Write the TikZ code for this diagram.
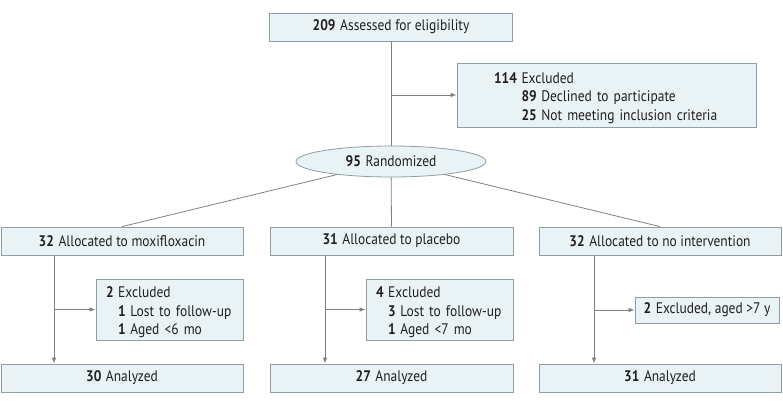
\documentclass[tikz,border=0pt]{standalone}
\usepackage{fontspec}
\setmainfont[FakeStretch=0.88]{PT Sans}
\usetikzlibrary{shapes.geometric,arrows.meta}
\definecolor{boxfill}{HTML}{E9F3F6}
\definecolor{boxline}{HTML}{8E9EA3}
\definecolor{flowline}{HTML}{808080}
\definecolor{inkblack}{HTML}{231F20}
\newcommand{\cnt}[1]{\textbf{#1}\hspace{0.3em}}
\newcommand{\topstrut}{\rule{0pt}{17pt}}

\begin{document}
\begin{tikzpicture}[x=1pt, y=-1pt,
    box/.style={rectangle, draw=boxline, fill=boxfill, line width=0.8pt,
      inner sep=0pt, minimum height=28pt, text=inkblack,
      font=\fontsize{15.3}{18.5}\selectfont},
    listbox/.style={box, align=left},
    oval/.style={box, ellipse, minimum width=190pt, minimum height=31pt},
    flow/.style={draw=flowline, line width=0.8pt},
    flowarrow/.style={flow, -{Latex[length=6pt, width=4.5pt]}}]
    \useasboundingbox (0,0) rectangle (783,406);

    % 1. 顶部:筛选与排除
    \node [box, minimum width=243pt] (assess) at (391, 27) {\cnt{209}Assessed for eligibility};
    \node [listbox, minimum width=299pt, minimum height=64pt, text width=225pt] (excl) at (606.5, 95)
      {\topstrut\cnt{114}Excluded\\%
       \hphantom{\cnt{114}}\cnt{89}Declined to participate\\%
       \hphantom{\cnt{114}}\cnt{25}Not meeting inclusion criteria};
    \node [oval] (rand) at (391, 161.5) {\cnt{95}Randomized};

    % 2. 三个分组
    \node [box, minimum width=242pt] (alloc1) at (122, 241) {\cnt{32}Allocated to moxifloxacin};
    \node [box, minimum width=243pt] (alloc2) at (391.5, 241) {\cnt{31}Allocated to placebo};
    \node [box, minimum width=242pt] (alloc3) at (660, 241) {\cnt{32}Allocated to no intervention};

    % 3. 各组排除
    \node [listbox, minimum width=147pt, minimum height=61pt, text width=127pt] (excl1) at (169.5, 309.5)
      {\topstrut\cnt{2}Excluded\\%
       \hphantom{\cnt{2}}\cnt{1}Lost to follow-up\\%
       \hphantom{\cnt{2}}\cnt{1}Aged <6 mo};
    \node [listbox, minimum width=147pt, minimum height=61pt, text width=127pt] (excl2) at (439.5, 309.5)
      {\topstrut\cnt{4}Excluded\\%
       \hphantom{\cnt{4}}\cnt{3}Lost to follow-up\\%
       \hphantom{\cnt{4}}\cnt{1}Aged <7 mo};
    \node [box, minimum width=144pt, minimum height=26pt] (excl3) at (707, 310) {\cnt{2}Excluded, aged >7 y};

    % 4. 分析
    \node [box, minimum width=242pt] (anal1) at (122, 378) {\cnt{30}Analyzed};
    \node [box, minimum width=243pt] (anal2) at (391.5, 378) {\cnt{27}Analyzed};
    \node [box, minimum width=242pt] (anal3) at (660, 378) {\cnt{31}Analyzed};

    % 5. 连线
    \draw [flow] (assess) -- (rand);
    \draw [flowarrow] (assess.south |- excl.west) -- (excl.west);
    \draw [flow] (rand) -- (alloc1.north);
    \draw [flow] (rand) -- (alloc2.north);
    \draw [flow] (rand) -- (alloc3.north);

    \coordinate (down1) at (54, 255);
    \coordinate (down2) at (325, 255);
    \coordinate (down3) at (594, 255);
    \draw [flowarrow] (down1) -- (down1 |- anal1.north);
    \draw [flowarrow] (down1 |- excl1.west) -- (excl1.west);
    \draw [flowarrow] (down2) -- (down2 |- anal2.north);
    \draw [flowarrow] (down2 |- excl2.west) -- (excl2.west);
    \draw [flowarrow] (down3) -- (down3 |- anal3.north);
    \draw [flowarrow] (down3 |- excl3.west) -- (excl3.west);
\end{tikzpicture}
\end{document}
